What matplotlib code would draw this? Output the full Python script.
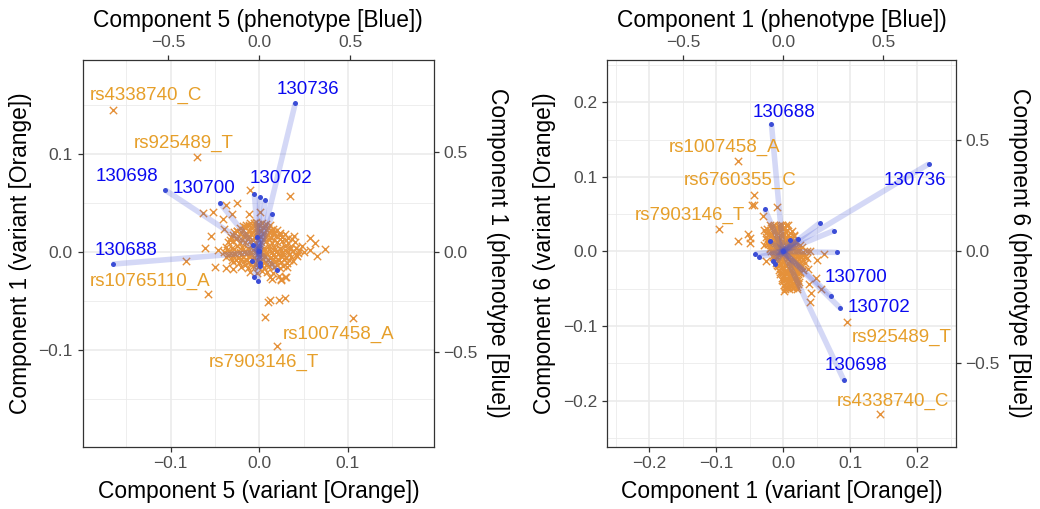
import matplotlib
matplotlib.use('Agg')
import matplotlib.pyplot as plt
from matplotlib.ticker import FixedLocator

plt.rcParams['font.family'] = ['Liberation Sans', 'DejaVu Sans']

# ---------------- LEFT PANEL DATA (Component 5 vs Component 1) ----------------
left_var_x = [
    -0.058, 0.035, -0.010, 0.006, 0.010, 0.012, 0.022, 0.029, 0.074, 0.065, 0.057, 0.057, 0.039, 0.063,
    -0.063, -0.052, -0.031, -0.025, -0.037, -0.041, -0.040, -0.054, -0.061, -0.046, -0.050, -0.038,
    -0.029, -0.031, 0.001, -0.001, -0.012, 0.022, 0.030, 0.012, 0.027, 0.031, -0.025, -0.006, 0.041,
    0.025, 0.014, 0.024, 0.029,
    -0.010, -0.004, 0.003, 0.008, -0.015,
    -0.022, -0.016, -0.009, -0.003, 0.004, 0.010, 0.015,
    -0.028, -0.021, -0.015, -0.008, -0.002, 0.005, 0.011, 0.017, 0.023,
    -0.032, -0.025, -0.018, -0.012, -0.005, 0.001, 0.007, 0.013, 0.019, 0.026, 0.032,
    -0.035, -0.029, -0.022, -0.016, -0.010, -0.004, 0.002, 0.008, 0.014, 0.020, 0.026, 0.033, 0.040,
    -0.038, -0.031, -0.025, -0.019, -0.013, -0.007, -0.001, 0.005, 0.011, 0.017, 0.023, 0.029, 0.035, 0.042, 0.048,
    -0.040, -0.034, -0.028, -0.022, -0.016, -0.010, -0.004, 0.002, 0.008, 0.014, 0.020, 0.026, 0.032, 0.038, 0.044, 0.050,
    -0.037, -0.030, -0.024, -0.018, -0.012, -0.006, 0.000, 0.006, 0.012, 0.018, 0.024, 0.030, 0.036, 0.043,
    -0.030, -0.023, -0.017, -0.011, -0.005, 0.001, 0.007, 0.013, 0.019, 0.025, 0.031, 0.038,
    -0.020, -0.013, -0.007, -0.001, 0.005, 0.011, 0.017, 0.023,
    -0.010, -0.003, 0.003, 0.009, 0.015,
    -0.018, -0.012, -0.006, 0.000, 0.006, 0.012,
    -0.025, -0.018, -0.011, -0.005, 0.002, 0.008, 0.014, 0.020,
    -0.029, -0.022, -0.015, -0.009, -0.002, 0.004, 0.010, 0.016, 0.023, 0.029,
    -0.033, -0.026, -0.019, -0.013, -0.007, -0.001, 0.005, 0.011, 0.017, 0.023, 0.030, 0.037,
    -0.036, -0.028, -0.019, -0.013, -0.007, -0.001, 0.005, 0.011, 0.017, 0.023, 0.029, 0.035, 0.045,
    -0.034, -0.027, -0.021, -0.015, -0.009, -0.003, 0.003, 0.009, 0.015, 0.021, 0.027, 0.034, 0.041,
    -0.026, -0.020, -0.014, -0.008, -0.002, 0.004, 0.010, 0.016, 0.022, 0.028, 0.034,
    -0.016, -0.010, -0.004, 0.002, 0.008, 0.014, 0.020,
]
left_var_y = [
    -0.043, 0.057, 0.063, -0.066, -0.051, -0.049, -0.049, -0.047, 0.003, -0.004, 0.014, 0.002, 0.016, 0.009,
    0.040, 0.041, 0.039, 0.050, 0.048, 0.034, 0.024, 0.016, 0.004, 0.002, -0.015, -0.016,
    -0.017, -0.008, 0.041, 0.029, 0.039, -0.024, -0.025, -0.025, -0.014, -0.015, 0.022, 0.030, 0.004,
    -0.029, -0.027, -0.027, -0.025,
    0.030, 0.031, 0.030, 0.029, 0.028,
    0.025, 0.026, 0.025, 0.024, 0.026, 0.025, 0.024,
    0.020, 0.021, 0.019, 0.020, 0.021, 0.019, 0.020, 0.021, 0.019,
    0.015, 0.014, 0.016, 0.015, 0.014, 0.016, 0.015, 0.014, 0.016, 0.015, 0.014,
    0.010, 0.011, 0.009, 0.010, 0.011, 0.009, 0.010, 0.011, 0.009, 0.010, 0.011, 0.009, 0.010,
    0.005, 0.004, 0.006, 0.005, 0.004, 0.006, 0.005, 0.004, 0.006, 0.005, 0.004, 0.006, 0.005, 0.004, 0.006,
    0.000, 0.001, -0.001, 0.000, 0.001, -0.001, 0.000, 0.001, -0.001, 0.000, 0.001, -0.001, 0.000, 0.001, -0.001, 0.000,
    -0.005, -0.004, -0.006, -0.005, -0.004, -0.006, -0.005, -0.004, -0.006, -0.005, -0.004, -0.006, -0.005, -0.004,
    -0.010, -0.011, -0.009, -0.010, -0.011, -0.009, -0.010, -0.011, -0.009, -0.010, -0.011, -0.009,
    -0.015, -0.016, -0.014, -0.015, -0.016, -0.014, -0.015, -0.016,
    -0.020, -0.021, -0.019, -0.020, -0.021,
    0.027, 0.028, 0.027, 0.028, 0.027, 0.028,
    0.022, 0.023, 0.022, 0.023, 0.022, 0.023, 0.022, 0.023,
    0.017, 0.018, 0.017, 0.018, 0.017, 0.018, 0.017, 0.018, 0.017, 0.018,
    0.012, 0.013, 0.012, 0.013, 0.012, 0.013, 0.012, 0.013, 0.012, 0.013, 0.012, 0.013,
    0.002, 0.003, 0.002, 0.003, 0.002, 0.003, 0.002, 0.003, 0.002, 0.003, 0.002, 0.003, 0.002,
    -0.003, -0.002, -0.003, -0.002, -0.003, -0.002, -0.003, -0.002, -0.003, -0.002, -0.003, -0.002, -0.003,
    -0.008, -0.007, -0.008, -0.007, -0.008, -0.007, -0.008, -0.007, -0.008, -0.007, -0.008,
    -0.013, -0.012, -0.013, -0.012, -0.013, -0.012, -0.013,
]
left_lab_names = ['rs4338740_C', 'rs925489_T', 'rs10765110_A', 'rs1007458_A', 'rs7903146_T']
left_lab_x = [-0.165, -0.070, -0.083, 0.106, 0.020]
left_lab_y = [0.145, 0.097, -0.009, -0.067, -0.096]

left_ph_names = ['130736', '130698', '130700', '', '', '130702', '', '130688',
                 '', '', '', '', '', '', '', '', '']
left_ph_x = [0.198, -0.517, -0.215, -0.027, 0.002, 0.033, 0.072, -0.807,
             -0.013, -0.035, 0.000, -0.039, 0.005, 0.005, 0.098, -0.027, -0.009]
left_ph_y = [0.740, 0.309, 0.243, 0.289, 0.275, 0.259, 0.189, -0.060,
             0.076, 0.035, 0.003, -0.043, -0.053, -0.068, -0.090, -0.123, -0.143]

# ---------------- RIGHT PANEL DATA (Component 1 vs Component 6) ----------------
right_var_x = [
    -0.044, -0.046, -0.009, -0.067, -0.052, -0.050, -0.049, -0.029, -0.025, -0.029, -0.030, 0.040, 0.050,
    0.061, 0.037, 0.039, 0.056, 0.041, 0.040, 0.001, 0.005, 0.022, 0.049, -0.015, -0.005, 0.007, 0.017, 0.014,
    -0.020, -0.014, -0.008, -0.002, 0.004,
    -0.024, -0.018, -0.012, -0.006, 0.000, 0.006,
    -0.025, -0.019, -0.013, -0.007, -0.001, 0.005, 0.011,
    -0.026, -0.020, -0.014, -0.008, -0.002, 0.004, 0.010, 0.016,
    -0.024, -0.018, -0.012, -0.006, 0.000, 0.006, 0.012, 0.018,
    -0.022, -0.016, -0.010, -0.004, 0.002, 0.008, 0.014, 0.020, 0.026,
    -0.020, -0.014, -0.008, -0.002, 0.004, 0.010, 0.016, 0.022, 0.028,
    -0.018, -0.012, -0.006, 0.000, 0.006, 0.012, 0.018, 0.024, 0.030, 0.036,
    -0.015, -0.009, -0.003, 0.003, 0.009, 0.015, 0.021, 0.027, 0.033,
    -0.012, -0.006, 0.000, 0.006, 0.012, 0.018, 0.024, 0.030, 0.036,
    -0.010, -0.004, 0.002, 0.008, 0.014, 0.020, 0.026, 0.032,
    -0.008, -0.002, 0.004, 0.010, 0.016, 0.022, 0.028,
    -0.006, 0.000, 0.006, 0.012, 0.018, 0.024, 0.030,
    -0.004, 0.002, 0.008, 0.014, 0.020, 0.026,
    -0.002, 0.004, 0.010, 0.016, 0.022,
    0.000, 0.006, 0.012, 0.018, 0.024,
    0.002, 0.008, 0.014, 0.020,
    0.003, 0.009, 0.015, 0.021,
    -0.017, -0.011, -0.005, 0.001,
    -0.022, -0.016, -0.010, -0.004, 0.002, 0.008,
    -0.023, -0.017, -0.011, -0.005, 0.001, 0.007, 0.013,
    -0.019, -0.013, -0.007, -0.001, 0.005, 0.011, 0.017, 0.023,
    -0.015, -0.009, -0.003, 0.003, 0.009, 0.015, 0.021, 0.027, 0.033,
    -0.009, -0.003, 0.003, 0.009, 0.015, 0.021, 0.027,
    -0.005, 0.001, 0.007, 0.013, 0.019, 0.025,
    -0.001, 0.005, 0.011, 0.017, 0.023,
    0.003, 0.009, 0.015, 0.021,
]
right_var_y = [
    0.062, 0.062, 0.060, 0.014, 0.024, 0.018, 0.011, 0.009, -0.013, 0.029, 0.047, 0.001, -0.011,
    -0.004, -0.024, -0.043, -0.050, -0.056, -0.068, -0.053, -0.047, -0.043, -0.036, 0.034, 0.036, 0.035, 0.022, 0.027,
    0.035, 0.036, 0.034, 0.035, 0.036,
    0.030, 0.031, 0.029, 0.030, 0.031, 0.029,
    0.025, 0.024, 0.026, 0.025, 0.024, 0.026, 0.025,
    0.020, 0.021, 0.019, 0.020, 0.021, 0.019, 0.020, 0.021,
    0.015, 0.014, 0.016, 0.015, 0.014, 0.016, 0.015, 0.014,
    0.010, 0.011, 0.009, 0.010, 0.011, 0.009, 0.010, 0.011, 0.009,
    0.005, 0.004, 0.006, 0.005, 0.004, 0.006, 0.005, 0.004, 0.006,
    0.000, 0.001, -0.001, 0.000, 0.001, -0.001, 0.000, 0.001, -0.001, 0.000,
    -0.005, -0.004, -0.006, -0.005, -0.004, -0.006, -0.005, -0.004, -0.006,
    -0.010, -0.011, -0.009, -0.010, -0.011, -0.009, -0.010, -0.011, -0.009,
    -0.015, -0.016, -0.014, -0.015, -0.016, -0.014, -0.015, -0.016,
    -0.020, -0.021, -0.019, -0.020, -0.021, -0.019, -0.020,
    -0.025, -0.024, -0.026, -0.025, -0.024, -0.026, -0.025,
    -0.030, -0.031, -0.029, -0.030, -0.031, -0.029,
    -0.035, -0.036, -0.034, -0.035, -0.036,
    -0.040, -0.041, -0.039, -0.040, -0.041,
    -0.045, -0.046, -0.044, -0.045,
    -0.050, -0.051, -0.049, -0.050,
    0.033, 0.032, 0.033, 0.032,
    0.023, 0.022, 0.023, 0.022, 0.023, 0.022,
    0.013, 0.012, 0.013, 0.012, 0.013, 0.012, 0.013,
    0.003, 0.002, 0.003, 0.002, 0.003, 0.002, 0.003, 0.002,
    -0.008, -0.007, -0.008, -0.007, -0.008, -0.007, -0.008, -0.007, -0.008,
    -0.018, -0.017, -0.018, -0.017, -0.018, -0.017, -0.018,
    -0.028, -0.027, -0.028, -0.027, -0.028, -0.027,
    -0.038, -0.037, -0.038, -0.037, -0.038,
    -0.048, -0.047, -0.048, -0.047,
]
right_lab_names = ['rs1007458_A', 'rs6760355_C', 'rs7903146_T', 'rs925489_T', 'rs4338740_C']
right_lab_x = [-0.067, -0.044, -0.096, 0.096, 0.145]
right_lab_y = [0.122, 0.076, 0.030, -0.095, -0.218]

right_ph_names = ['130688', '130736', '130698', '130702', '130700',
                  '', '', '', '', '', '', '', '', '', '', '', '']
right_ph_x = [-0.058, 0.729, 0.303, 0.283, 0.242,
              -0.091, 0.183, 0.255, -0.066, 0.034, 0.075, 0.271, -0.141, -0.120, -0.050, -0.042, 0.000]
right_ph_y = [0.573, 0.394, -0.577, -0.252, -0.202,
              0.191, 0.128, 0.094, 0.045, 0.051, 0.056, -0.004, -0.010, -0.025, -0.042, -0.057, 0.000]

# ---------------- Layout / style (not data) ----------------
LEFT_LABEL_POS = {
    'rs4338740_C': (-0.1274, 0.1595), 'rs925489_T': (-0.0857, 0.1109),
    '130698': (-0.1492, 0.0768), '130700': (-0.062, 0.065), '130702': (0.0248, 0.0752),
    '130736': (0.0552, 0.166), '130688': (-0.1505, 0.002), 'rs10765110_A': (-0.1229, -0.0296),
    'rs1007458_A': (0.0899, -0.0837), 'rs7903146_T': (0.0048, -0.113),
}
RIGHT_LABEL_POS = {
    '130688': (0.0018, 0.1868), 'rs1007458_A': (-0.0869, 0.1399), 'rs6760355_C': (-0.0638, 0.0949),
    'rs7903146_T': (-0.1395, 0.0479), '130736': (0.197, 0.0949), '130700': (0.1088, -0.0346),
    '130702': (0.1437, -0.0749), 'rs925489_T': (0.1769, -0.1152), '130698': (0.1094, -0.1534),
    'rs4338740_C': (0.1639, -0.2013),
}

ORANGE_MK = '#E5913A'
ORANGE_TX = '#E69F2A'
BLUE_PT = '#3B4DD6'
BLUE_TX = '#0A0AF0'
GRID = '#EBEBEB'
TICK_TX = '#4D4D4D'


def fmt(v, p):
    return f'{v:.1f}'.replace('-', '\u2212')


def draw(ax, var_x, var_y, lab_names, lab_x, lab_y, ph_names, ph_x, ph_y, k, label_pos,
         xlims, ylims, xmaj, xmin, ymaj, ymin, xl_b, xl_t, yl_l, yl_r):
    ax.set_xlim(*xlims)
    ax.set_ylim(*ylims)
    ax.set_facecolor('white')
    ax.xaxis.set_major_locator(FixedLocator(xmaj))
    ax.xaxis.set_minor_locator(FixedLocator(xmin))
    ax.yaxis.set_major_locator(FixedLocator(ymaj))
    ax.yaxis.set_minor_locator(FixedLocator(ymin))
    ax.xaxis.set_major_formatter(matplotlib.ticker.FuncFormatter(fmt))
    ax.yaxis.set_major_formatter(matplotlib.ticker.FuncFormatter(fmt))
    ax.grid(True, which='major', color=GRID, lw=1.2, zorder=0)
    ax.grid(True, which='minor', color=GRID, lw=0.6, zorder=0)
    ax.set_axisbelow(True)
    ax.tick_params(which='minor', length=0)
    ax.tick_params(which='major', length=3.5, width=0.9, color='#333333', labelcolor=TICK_TX,
                   labelsize=12.5, pad=3.5)
    for s in ax.spines.values():
        s.set_color('#333333')
        s.set_linewidth(0.9)

    ax.scatter(var_x + lab_x, var_y + lab_y, marker='x', s=28, linewidths=1.0,
               color=ORANGE_MK, zorder=2)
    for px, py in zip(ph_x, ph_y):
        ax.plot([0, px / k], [0, py / k], color='#3F51D8', alpha=0.22, lw=4.0,
                solid_capstyle='butt', zorder=3)
    ax.scatter([p / k for p in ph_x], [p / k for p in ph_y], s=13, color=BLUE_PT,
               zorder=4, linewidths=0)

    for n in lab_names:
        x, y = label_pos[n]
        ax.text(x, y, n, color=ORANGE_TX, fontsize=13.5, ha='center', va='center', zorder=5)
    for n in ph_names:
        if n:
            x, y = label_pos[n]
            ax.text(x, y, n, color=BLUE_TX, fontsize=13.5, ha='center', va='center', zorder=5)

    ax.set_xlabel(xl_b, fontsize=16.4, color='black', labelpad=6)
    ax.set_ylabel(yl_l, fontsize=16.4, color='black', labelpad=5)

    sx = ax.secondary_xaxis('top', functions=(lambda v: v * k, lambda v: v / k))
    sx.set_xticks([-0.5, 0.0, 0.5])
    sx.xaxis.set_major_formatter(matplotlib.ticker.FuncFormatter(fmt))
    sx.tick_params(length=3.5, width=0.9, color='#333333', labelcolor=TICK_TX, labelsize=12.5, pad=3.5)
    sx.set_xlabel(xl_t, fontsize=16.4, color='black', labelpad=6)
    sx.spines['top'].set_visible(False)

    sy = ax.secondary_yaxis('right', functions=(lambda v: v * k, lambda v: v / k))
    sy.set_yticks([-0.5, 0.0, 0.5])
    sy.yaxis.set_major_formatter(matplotlib.ticker.FuncFormatter(fmt))
    sy.tick_params(length=3.5, width=0.9, color='#333333', labelcolor=TICK_TX, labelsize=12.5, pad=3)
    sy.set_ylabel(yl_r, fontsize=16.4, color='black', rotation=270, va='bottom', labelpad=6)
    sy.spines['right'].set_visible(False)


fig = plt.figure(figsize=(10.4, 5.09), dpi=100)
fig.patch.set_facecolor('white')
axL = fig.add_axes([0.0795, 0.1224, 0.3378, 0.7597])
axR = fig.add_axes([0.5841, 0.1224, 0.3351, 0.7597])

draw(axL, left_var_x, left_var_y, left_lab_names, left_lab_x, left_lab_y,
     left_ph_names, left_ph_x, left_ph_y, 4.88, LEFT_LABEL_POS,
     (-0.199, 0.197), (-0.1986, 0.196),
     [-0.1, 0.0, 0.1], [-0.15, -0.05, 0.05, 0.15],
     [-0.1, 0.0, 0.1], [-0.15, -0.05, 0.05, 0.15],
     'Component 5 (variant [Orange])', 'Component 5 (phenotype [Blue])',
     'Component 1 (variant [Orange])', 'Component 1 (phenotype [Blue])')

draw(axR, right_var_x, right_var_y, right_lab_names, right_lab_x, right_lab_y,
     right_ph_names, right_ph_x, right_ph_y, 3.35, RIGHT_LABEL_POS,
     (-0.262, 0.258), (-0.262, 0.257),
     [-0.2, -0.1, 0.0, 0.1, 0.2], [-0.25, -0.15, -0.05, 0.05, 0.15, 0.25],
     [-0.2, -0.1, 0.0, 0.1, 0.2], [-0.25, -0.15, -0.05, 0.05, 0.15, 0.25],
     'Component 1 (variant [Orange])', 'Component 1 (phenotype [Blue])',
     'Component 6 (variant [Orange])', 'Component 6 (phenotype [Blue])')

fig.savefig('out.png', dpi=100, facecolor='white')
